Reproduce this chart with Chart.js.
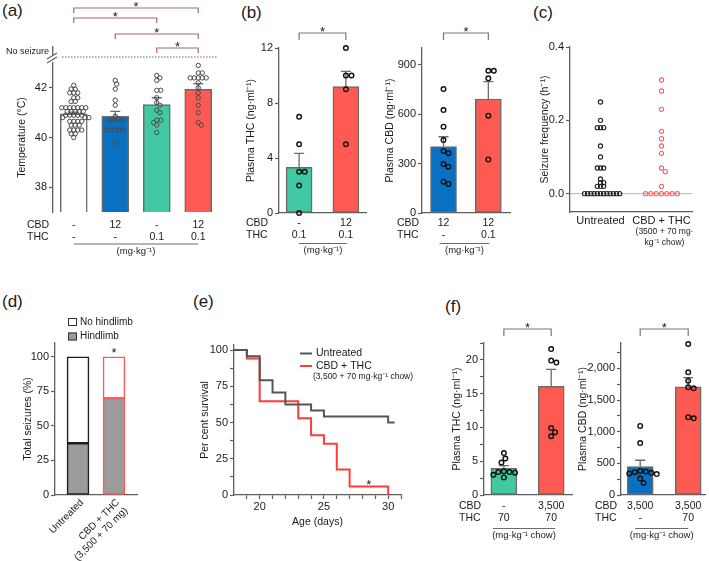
<!DOCTYPE html>
<html>
<head>
<meta charset="utf-8">
<script src="https://cdn.jsdelivr.net/npm/chart.js@4.4.1/dist/chart.umd.min.js"></script>
<style>
  html, body { margin: 0; padding: 0; background: #fff; }
  body { position: relative; width: 709px; height: 561px; overflow: hidden; }
  canvas { position: absolute; }
  .tag { position: absolute; font: 17px "Liberation Sans", Arial, sans-serif; color: #1a1a1a; }
</style>
</head>
<body>
<div class="tag" style="left:2px;top:1px">(a)</div>
<div class="tag" style="left:241px;top:3px">(b)</div>
<div class="tag" style="left:533px;top:3px">(c)</div>
<div class="tag" style="left:2px;top:292px">(d)</div>
<div class="tag" style="left:193px;top:292px">(e)</div>
<div class="tag" style="left:445px;top:297px">(f)</div>
<script>
// ---- (a) temperature at seizure onset ----
const aCbd = ['-', '12', '-', '12'];
const aThc = ['-', '-', '0.1', '0.1'];
const aMean = [40.95, 40.85, 41.33, 41.94];
const aSem = [0.07, 0.2, 0.27, 0.23];
const aVehicle = [42.1, 41.95, 41.95, 41.8, 41.8, 41.8, 41.6, 41.6, 41.45, 41.45, 41.2, 41.2, 41.2, 41.2, 41.2, 41.2, 41.2,
  41.05, 41.05, 41.05, 41.05, 41.05, 40.9, 40.9, 40.9, 40.9, 40.9, 40.8, 40.8, 40.8, 40.65, 40.65, 40.65, 40.65,
  40.5, 40.5, 40.5, 40.3, 40.3, 40.3, 40.3, 40.15, 40.15, 40.0];
const aCbdOnly = [42.3, 42.15, 41.95, 41.5, 41.3, 40.85, 40.75, 40.7, 40.7, 40.7, 40.3, 40.3, 40.3, 40.3, 40.3, 39.8];
const aThcOnly = [42.5, 42.4, 42.3, 41.9, 41.9, 41.6, 41.4, 41.3, 41.1, 41.0, 40.7, 40.7, 40.6, 40.5, 40.2];
const aCbdThc = [42.9, 42.6, 42.6, 42.4, 42.4, 42.4, 42.4, 42.4, 42.2, 42.0, 41.8, 41.6, 41.3, 41.0, 40.6, 40.5];
const aTicks = [38, 40, 42];
const aSig = [[0, 3], [0, 2], [1, 3], [2, 3]];

// ---- (b) plasma levels after acute dosing ----
const bThcCbd = ['-', '12'];
const bThcThc = ['0.1', '0.1'];
const bThcMean = [3.33, 9.2];
const bThcSem = [1.0, 1.1];
const bThcLow = [7, 5, 3, 3, 2, 0];
const bThcHigh = [12, 10, 10, 9, 5];
const bThcTicks = [0, 4, 8, 12];
const bCbdCbd = ['12', '12'];
const bCbdThc = ['-', '0.1'];
const bCbdMean = [402, 691];
const bCbdSem = [60, 105];
const bCbdAlone = [751, 624, 523, 442, 376, 362, 297, 281, 190, 176];
const bCbdCombo = [862, 862, 816, 590, 325];
const bCbdTicks = [0, 300, 600, 900];

// ---- (c) seizure frequency ----
const cGroups = ['Untreated', 'CBD + THC'];
const cSub = ['(3500 + 70 mg·', 'kg⁻¹ chow)'];
const cUntreated = [0.25, 0.20, 0.18, 0.18, 0.18, 0.13, 0.10, 0.07, 0.07, 0.07, 0.04, 0.03, 0.03, 0.02, 0.02, 0.02,
  0, 0, 0, 0, 0, 0, 0, 0, 0, 0, 0, 0];
const cTreated = [0.31, 0.28, 0.23, 0.17, 0.15, 0.13, 0.11, 0.07, 0.06, 0.02, 0, 0, 0, 0, 0, 0, 0];
const cTicks = [0, 0.2, 0.4];

// ---- (d) seizure type ----
const dGroups = [['Untreated'], ['CBD + THC', '(3,500 + 70 mg)']];
const dHindlimb = [37.5, 70];
const dNoHindlimb = [62.5, 30];
const dTicks = [0, 25, 50, 75, 100];

// ---- (e) survival ----
const eUntrDays = [18, 19, 20, 21, 22, 24, 25, 30, 30.5];
const eUntrSurv = [100, 95.8, 79.2, 70.8, 62.5, 58.3, 54.2, 50, 50];
const eComboDays = [18, 19, 20, 23, 24, 25, 26, 27, 30];
const eComboSurv = [100, 94.1, 64.7, 52.9, 41.2, 35.3, 17.6, 5.9, 0];
const eXTicks = [19, 20, 21, 22, 23, 24, 25, 26, 27, 28, 29, 30, 31];
const eXLabels = [20, 25, 30];
const eYTicks = [0, 12.5, 25, 37.5, 50, 62.5, 75, 87.5, 100];
const eYLabels = [0, 25, 50, 75, 100];

// ---- (f) plasma levels on chow ----
const fThcCbd = ['-', '3,500'];
const fThcThc = ['70', '70'];
const fThcMean = [3.96, 16.1];
const fThcSem = [0.4, 2.5];
const fThcLow = [6.2, 5.4, 4.8, 3.5, 3.4, 3.4, 3.3, 3.0, 2.6];
const fThcHigh = [24, 21.6, 19.9, 19.6, 9.9, 9.3, 8.7];
const fThcTicks = [0, 2.5, 5, 7.5, 10, 12.5, 15, 17.5, 20, 22.5];
const fThcLabels = [0, 5, 10, 15, 20];
const fCbdCbd = ['3,500', '3,500'];
const fCbdThc = ['-', '70'];
const fCbdMean = [449, 1706];
const fCbdSem = [100, 147];
const fCbdAlone = [1090, 820, 380, 370, 360, 350, 340, 330, 260, 190];
const fCbdCombo = [2384, 1937, 1805, 1700, 1684, 1226, 1210];
const fCbdTicks = [0, 250, 500, 750, 1000, 1250, 1500, 1750, 2000, 2250];
const fCbdLabels = [0, 500, 1000, 1500, 2000];

// ---- styling ----
const FONT = '"Liberation Sans", Arial, sans-serif';
const INK = '#1a1a1a';
const AXIS = '#5e5e5e';
const BLUE = '#0a70c2';
const GREEN = '#40c9a2';
const RED = '#ff5a52';
const HIND = '#9b9b9b';
const TICK_PX = 11;
const TITLE_PX = 10.5;
Chart.defaults.font.family = FONT;
Chart.defaults.color = INK;

// canvas placed on the page so that its plot area lands on [L, T, R, B]
function mount(rect, area, titleX) {
  const [cx, cy, cw, ch] = rect;
  const [L, T, R, B] = area;
  const cv = document.createElement('canvas');
  cv.width = cw; cv.height = ch;
  cv.style.left = cx + 'px'; cv.style.top = cy + 'px';
  cv.style.width = cw + 'px'; cv.style.height = ch + 'px';
  document.body.appendChild(cv);
  const pl = titleX - cx - TITLE_PX * 0.6;
  return { cv, cx, cy, L, T, R, B,
    pad: { left: pl, top: T - cy, right: cx + cw - R, bottom: 0 },
    yw: L - cx - pl, xh: cy + ch - B };
}

function base(g, scales) {
  return {
    responsive: false, animation: false, devicePixelRatio: 1, events: [],
    layout: { padding: g.pad },
    plugins: { legend: { display: false }, tooltip: { enabled: false } },
    scales
  };
}

function yScale(g, o) {
  const labels = o.labels || o.ticks;
  return {
    type: 'linear', position: 'left', min: o.min, max: o.max,
    border: { color: AXIS, width: 1.3 },
    grid: { drawOnChartArea: false, color: AXIS, tickLength: 4, tickWidth: 1.2 },
    ticks: { autoSkip: false, padding: 2, font: { size: TICK_PX }, color: INK,
      callback: v => labels.includes(v) ? (o.fmt ? o.fmt(v) : String(v)) : '' },
    afterBuildTicks: s => { s.ticks = o.ticks.map(v => ({ value: v })); },
    afterFit: s => { s.width = g.yw; },
    title: { display: true, text: o.title, font: { size: TITLE_PX }, color: INK, padding: 0 }
  };
}

function xScale(g, o) {
  return {
    type: 'linear', position: 'bottom', min: o.min, max: o.max, offset: false, stacked: !!o.stacked,
    border: { display: o.line !== false, color: AXIS, width: 1.3 },
    grid: { display: false },
    ticks: { display: false },
    afterFit: s => { s.height = g.xh; }
  };
}

// simple beeswarm: horizontal pixel offsets so circles don't overlap
function swarm(vals, pxPerY, gap) {
  const order = vals.map((v, i) => i).sort((p, q) => vals[q] - vals[p]);
  const placed = [], off = [];
  order.forEach(i => {
    const y = vals[i] * pxPerY;
    const near = placed.filter(p => Math.abs(p.y - y) < gap);
    const cand = [0];
    near.forEach(p => {
      const dx = Math.sqrt(gap * gap - (p.y - y) ** 2);
      cand.push(p.x + dx, p.x - dx);
    });
    cand.sort((s, t) => Math.abs(s) - Math.abs(t));
    const x = cand.find(c => near.every(p => (p.x - c) ** 2 + (p.y - y) ** 2 >= gap * gap - 1e-6));
    placed.push({ x, y });
    off[i] = x;
  });
  return off;
}

function text(ctx, t, x, y, o = {}) {
  ctx.save();
  ctx.font = (o.size || 10) + 'px ' + FONT;
  ctx.fillStyle = o.color || INK;
  ctx.textAlign = o.align || 'center';
  ctx.textBaseline = o.base || 'middle';
  ctx.fillText(t, x, y);
  ctx.restore();
}

function seg(ctx, x1, y1, x2, y2, color, w, dash) {
  ctx.save();
  ctx.strokeStyle = color; ctx.lineWidth = w;
  if (dash) ctx.setLineDash(dash);
  ctx.beginPath(); ctx.moveTo(x1, y1); ctx.lineTo(x2, y2); ctx.stroke();
  ctx.restore();
}

function star(ctx, x, yc) {
  text(ctx, '*', x, yc + 7, { size: 13, base: 'alphabetic', align: 'center' });
}

function drawErr(chart, means, sems, cap) {
  const { ctx, scales: { x, y } } = chart;
  ctx.save();
  ctx.strokeStyle = '#6b6b6b'; ctx.lineWidth = 1.3;
  means.forEach((m, i) => {
    const px = x.getPixelForValue(i);
    const y0 = y.getPixelForValue(m), y1 = y.getPixelForValue(m + sems[i]);
    ctx.beginPath();
    ctx.moveTo(px, y0); ctx.lineTo(px, y1);
    ctx.moveTo(px - cap / 2, y1); ctx.lineTo(px + cap / 2, y1);
    ctx.stroke();
  });
  ctx.restore();
}

function bracket(chart, g, i1, i2, top, leg, color) {
  const { ctx, scales: { x } } = chart;
  const y = top - g.cy;
  const x1 = x.getPixelForValue(i1), x2 = x.getPixelForValue(i2);
  ctx.save();
  ctx.strokeStyle = color; ctx.lineWidth = 1.2;
  ctx.beginPath();
  ctx.moveTo(x1, y + leg); ctx.lineTo(x1, y); ctx.lineTo(x2, y); ctx.lineTo(x2, y + leg);
  ctx.stroke();
  ctx.restore();
  star(ctx, (x1 + x2) / 2, y - 4);
}

function doses(chart, g, rows, o) {
  const { ctx, scales: { x } } = chart;
  rows.forEach(([name, vals], r) => {
    const y = o.ys[r] - g.cy;
    text(ctx, name, o.hx - g.cx, y, { align: 'left', size: 10.5 });
    vals.forEach((v, i) => text(ctx, v, x.getPixelForValue(i), y, { size: 10.5 }));
  });
  const n = rows[0][1].length;
  const xa = x.getPixelForValue(0) - o.ext[0], xb = x.getPixelForValue(n - 1) + o.ext[1];
  seg(ctx, xa, o.lineY - g.cy, xb, o.lineY - g.cy, '#6b6b6b', 1);
  text(ctx, o.unit, (xa + xb) / 2, o.unitY - g.cy, { size: 9.5 });
}

function barPanel(g, o) {
  const pxY = (g.B - g.T) / (o.yMax - o.yMin);
  const pxX = (g.R - g.L) / (o.xMax - o.xMin);
  const datasets = [{
    type: 'bar', data: o.means.map((m, i) => ({ x: i, y: m })),
    backgroundColor: o.colors, borderColor: '#6b6b6b', borderWidth: 1.5, borderSkipped: false,
    barThickness: o.barW, order: 2
  }];
  o.groups.forEach((pts, i) => {
    const off = swarm(pts, pxY, o.gap);
    datasets.push({
      type: 'scatter', data: pts.map((v, k) => ({ x: i + off[k] / pxX, y: v })),
      pointRadius: o.r, pointHoverRadius: o.r, pointBorderWidth: o.bw, pointBorderColor: o.dot,
      pointBackgroundColor: 'rgba(0,0,0,0)', clip: false, order: 1
    });
  });
  return new Chart(g.cv, {
    type: 'bar',
    data: { datasets },
    options: base(g, {
      x: xScale(g, { min: o.xMin, max: o.xMax, line: o.xLine }),
      y: yScale(g, { min: o.yMin, max: o.yMax, ticks: o.ticks, labels: o.labels, fmt: o.fmt, title: o.title })
    }),
    plugins: [{
      id: 'decor',
      afterDatasetDraw(chart, args) { if (args.index === 0) drawErr(chart, o.means, o.sems, o.cap); },
      afterDraw(chart) { o.decor(chart); }
    }]
  });
}

// ---------- (a) ----------
const gA = mount([0, 0, 228, 262], [53, 63, 219, 212], 22);
barPanel(gA, {
  xMin: -0.5, xMax: 3.5, yMin: 37, yMax: 43, ticks: aTicks, title: 'Temperature (°C)', xLine: false,
  means: aMean, sems: aSem, colors: ['#ffffff', BLUE, GREEN, RED], barW: 27, cap: 10,
  groups: [aVehicle, aCbdOnly, aThcOnly, aCbdThc], gap: 4.0, r: 2.2, bw: 1, dot: '#4a4a4a',
  decor(chart) {
    const ctx = chart.ctx;
    doses(chart, gA, [['CBD', aCbd], ['THC', aThc]],
      { hx: 27, ys: [225, 237], lineY: 244, unitY: 251, unit: '(mg·kg⁻¹)', ext: [0, 0] });
    const tops = [8, 18, 34, 48];
    aSig.forEach(([i, j], k) => bracket(chart, gA, i, j, tops[k], 5, '#a36b6b'));
    // "No seizure" ceiling with broken axis
    seg(ctx, 62, 57, 218, 57, '#666', 1, [1.5, 1.5]);
    text(ctx, 'No seizure', 6, 52, { align: 'left', size: 9 });
    ctx.save(); ctx.fillStyle = '#fff'; ctx.fillRect(50, 55, 6, 5); ctx.restore();
    seg(ctx, 52.7, 46, 52.7, 55, AXIS, 1.3);
    seg(ctx, 47, 59, 57, 53, AXIS, 1.1);
    seg(ctx, 47, 63, 57, 57, AXIS, 1.1);
  }
});

// ---------- (b) left: THC ----------
const gB1 = mount([236, 20, 134, 242], [279, 48, 366, 213], 251);
barPanel(gB1, {
  xMin: -0.43, xMax: 1.43, yMin: 0, yMax: 12, ticks: bThcTicks, title: 'Plasma THC (ng·ml⁻¹)',
  means: bThcMean, sems: bThcSem, colors: [GREEN, RED], barW: 26, cap: 10,
  groups: [bThcLow, bThcHigh], gap: 5.6, r: 2.3, bw: 1.4, dot: '#111',
  decor(chart) {
    doses(chart, gB1, [['CBD', bThcCbd], ['THC', bThcThc]],
      { hx: 246, ys: [223, 235], lineY: 243.5, unitY: 250.5, unit: '(mg·kg⁻¹)', ext: [0, 1] });
    bracket(chart, gB1, 0, 1, 33, 7, '#777');
  }
});

// ---------- (b) right: CBD ----------
const gB2 = mount([378, 20, 136, 242], [422, 48, 512, 213], 390);
barPanel(gB2, {
  xMin: -0.48, xMax: 1.49, yMin: 0, yMax: 1000, ticks: bCbdTicks, title: 'Plasma CBD (ng·ml⁻¹)',
  means: bCbdMean, sems: bCbdSem, colors: [BLUE, RED], barW: 26, cap: 10,
  groups: [bCbdAlone, bCbdCombo], gap: 5.6, r: 2.3, bw: 1.4, dot: '#111',
  decor(chart) {
    doses(chart, gB2, [['CBD', bCbdCbd], ['THC', bCbdThc]],
      { hx: 397, ys: [223, 235], lineY: 243.5, unitY: 250.5, unit: '(mg·kg⁻¹)', ext: [4, 1] });
    bracket(chart, gB2, 0, 1, 33, 7, '#777');
  }
});

// ---------- (c) seizure frequency ----------
const gC = mount([530, 20, 179, 240], [570, 47, 692, 212], 545);
(function () {
  const pxY = (gC.B - gC.T) / 0.45, pxX = (gC.R - gC.L) / 2;
  const mk = (pts, i, col, gap) => {
    const off = swarm(pts, pxY, gap);
    return { type: 'scatter', data: pts.map((v, k) => ({ x: i + off[k] / pxX, y: v })),
      pointRadius: 2.1, pointHoverRadius: 2.1, pointBorderWidth: 1.1, pointBorderColor: col,
      pointBackgroundColor: 'rgba(255,255,255,0)', clip: false };
  };
  new Chart(gC.cv, {
    type: 'scatter',
    data: { datasets: [mk(cUntreated, 0, '#222', 3.2), mk(cTreated, 1, '#ff5f5f', 5.3)] },
    options: base(gC, {
      x: xScale(gC, { min: -0.5, max: 1.5 }),
      y: yScale(gC, { min: -0.05, max: 0.4, ticks: cTicks, fmt: v => v.toFixed(1), title: 'Seizure frequency (h⁻¹)' })
    }),
    plugins: [{
      id: 'decor',
      beforeDatasetsDraw(chart) {
        const { ctx, scales: { x, y } } = chart;
        const y0 = y.getPixelForValue(0);
        seg(ctx, x.left, y0, x.right, y0, '#b5b5b5', 1);
      },
      afterDraw(chart) {
        const { ctx, scales: { x } } = chart;
        cGroups.forEach((t, i) => text(ctx, t, x.getPixelForValue(i), 221 - gC.cy, { size: 11 }));
        cSub.forEach((t, k) => text(ctx, t, x.getPixelForValue(1) + 3, 232 + k * 10.5 - gC.cy, { size: 8.5 }));
      }
    }]
  });
})();

// ---------- (d) seizure type ----------
const gD = mount([0, 290, 150, 271], [55, 343, 137, 495], 28);
new Chart(gD.cv, {
  type: 'bar',
  data: {
    datasets: [
      { label: 'Hindlimb', data: dHindlimb.map((v, i) => ({ x: i, y: v })), backgroundColor: HIND,
        borderColor: ['#1e1e1e', '#ff5a5a'], borderWidth: 1.6, borderSkipped: false, barThickness: 22 },
      { label: 'No hindlimb', data: dNoHindlimb.map((v, i) => ({ x: i, y: v })), backgroundColor: '#ffffff',
        borderColor: ['#1e1e1e', '#ff5a5a'], borderWidth: 1.6, borderSkipped: false, barThickness: 22 }
    ]
  },
  options: base(gD, {
    x: xScale(gD, { min: -0.64, max: 1.64, stacked: true }),
    y: Object.assign(yScale(gD, { min: 0, max: 110, ticks: dTicks, title: 'Total seizures (%)' }), { stacked: true })
  }),
  plugins: [{
    id: 'decor',
    afterDraw(chart) {
      const { ctx, scales: { x, y } } = chart;
      const sets = chart.data.datasets;
      [[sets[1], 322], [sets[0], 336.5]].forEach(([ds, py]) => {
        const yy = py - gD.cy;
        ctx.save();
        ctx.fillStyle = ds.backgroundColor; ctx.fillRect(68, yy - 4, 9, 8);
        ctx.strokeStyle = '#333'; ctx.lineWidth = 1; ctx.strokeRect(68.5, yy - 3.5, 8, 7);
        ctx.restore();
        text(ctx, ds.label, 80, yy, { align: 'left', size: 10 });
      });
      star(ctx, x.getPixelForValue(1), y.getPixelForValue(100) - 7);
      dGroups.forEach((lines, i) => {
        ctx.save();
        ctx.translate(x.getPixelForValue(i) + 4, 501 - gD.cy);
        ctx.rotate(-Math.PI / 4);
        lines.forEach((t, k) => text(ctx, t, 0, k * 11.5, { align: 'right', size: 10 }));
        ctx.restore();
      });
    }
  }]
});

// ---------- (e) survival ----------
const gE = mount([190, 290, 245, 238], [234, 345, 401, 495], 205);
new Chart(gE.cv, {
  type: 'line',
  data: {
    datasets: [
      { label: 'Untreated', data: eUntrDays.map((d, i) => ({ x: d, y: eUntrSurv[i] })),
        borderColor: '#555', borderWidth: 2, stepped: true, pointRadius: 0, fill: false, order: 0 },
      { label: 'CBD + THC', sub: '(3,500 + 70 mg·kg⁻¹ chow)', data: eComboDays.map((d, i) => ({ x: d, y: eComboSurv[i] })),
        borderColor: '#ff3b3b', borderWidth: 2, stepped: true, pointRadius: 0, fill: false, order: 1 }
    ]
  },
  options: base(gE, {
    x: {
      type: 'linear', position: 'bottom', min: 18, max: 31, offset: false,
      border: { color: AXIS, width: 1.3 },
      grid: { drawOnChartArea: false, color: AXIS, tickLength: 4, tickWidth: 1.2 },
      ticks: { autoSkip: false, padding: 1, maxRotation: 0, font: { size: TICK_PX }, color: INK,
        callback: v => eXLabels.includes(v) ? String(v) : '' },
      afterBuildTicks: s => { s.ticks = eXTicks.map(v => ({ value: v })); },
      afterFit: s => { s.height = gE.xh; },
      title: { display: true, text: 'Age (days)', font: { size: TITLE_PX }, color: INK, padding: 0 }
    },
    y: yScale(gE, { min: 0, max: 103.5, ticks: eYTicks, labels: eYLabels, title: 'Per cent survival' })
  }),
  plugins: [{
    id: 'decor',
    afterDraw(chart) {
      const { ctx, scales: { x, y } } = chart;
      chart.data.datasets.forEach((ds, k) => {
        const yy = 353.5 + k * 12.5 - gE.cy;
        seg(ctx, 300 - gE.cx, yy, 312 - gE.cx, yy, ds.borderColor, 2);
        text(ctx, ds.label, 316 - gE.cx, yy, { align: 'left', size: 10.5 });
        if (ds.sub) text(ctx, ds.sub, 313 - gE.cx, yy + 10.5, { align: 'left', size: 8.5 });
      });
      star(ctx, x.getPixelForValue(28.5), y.getPixelForValue(9));
    }
  }]
});

// ---------- (f) left: THC on chow ----------
const gF1 = mount([444, 300, 132, 245], [484, 343, 572, 495], 457);
barPanel(gF1, {
  xMin: -0.42, xMax: 1.44, yMin: 0, yMax: 22.5, ticks: fThcTicks, labels: fThcLabels, title: 'Plasma THC (ng·ml⁻¹)',
  means: fThcMean, sems: fThcSem, colors: [GREEN, RED], barW: 26, cap: 10,
  groups: [fThcLow, fThcHigh], gap: 5.6, r: 2.3, bw: 1.4, dot: '#111',
  decor(chart) {
    doses(chart, gF1, [['CBD', fThcCbd], ['THC', fThcThc]],
      { hx: 459, ys: [506.5, 518], lineY: 528.5, unitY: 535.5, unit: '(mg·kg⁻¹ chow)', ext: [11, 4] });
    bracket(chart, gF1, 0, 1, 329, 7, '#777');
  }
});

// ---------- (f) right: CBD on chow ----------
const gF2 = mount([572, 300, 137, 245], [621, 343, 705, 495], 583);
barPanel(gF2, {
  xMin: -0.4, xMax: 1.35, yMin: 0, yMax: 2400, ticks: fCbdTicks, labels: fCbdLabels,
  fmt: v => v.toLocaleString('en-US'), title: 'Plasma CBD (ng·ml⁻¹)',
  means: fCbdMean, sems: fCbdSem, colors: [BLUE, RED], barW: 26, cap: 10,
  groups: [fCbdAlone, fCbdCombo], gap: 5.6, r: 2.3, bw: 1.4, dot: '#111',
  decor(chart) {
    doses(chart, gF2, [['CBD', fCbdCbd], ['THC', fCbdThc]],
      { hx: 595, ys: [506.5, 518], lineY: 528.5, unitY: 535.5, unit: '(mg·kg⁻¹ chow)', ext: [5, 0] });
    bracket(chart, gF2, 0, 1, 329, 7, '#777');
  }
});
</script>
</body>
</html>
